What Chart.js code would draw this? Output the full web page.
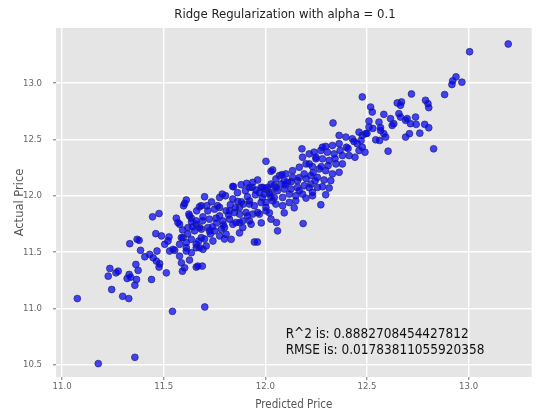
<!DOCTYPE html>
<html>
<head>
<meta charset="utf-8">
<script src="https://cdn.jsdelivr.net/npm/chart.js@4/dist/chart.umd.min.js"></script>
<style>
html,body{margin:0;padding:0;background:#fff;}
#wrap{width:536px;height:412px;position:relative;}
</style>
</head>
<body>
<div id="wrap"><canvas id="c"></canvas></div>
<script>
const chartTitle = 'Ridge Regularization with alpha = 0.1';
const xLabel = 'Predicted Price';
const yLabel = 'Actual Price';
const xTicks = [11.0, 11.5, 12.0, 12.5, 13.0];
const yTicks = [10.5, 11.0, 11.5, 12.0, 12.5, 13.0];
const annotationLines = ['R^2 is: 0.8882708454427812', 'RMSE is: 0.01783811055920358'];

const predicted = [
11.603,11.611,11.445,11.477,11.562,11.570,11.627,11.660,11.691,11.461,
11.489,11.521,11.505,11.529,11.554,11.578,11.595,11.611,11.636,11.660,
11.693,11.333,11.369,11.379,11.386,11.407,11.431,11.448,11.467,11.464,
11.480,11.477,11.513,11.578,11.587,11.603,11.592,11.627,11.660,11.690,
11.235,11.227,11.265,11.276,11.330,11.320,11.337,11.363,11.374,11.366,
11.358,11.440,11.244,11.298,11.328,11.075,11.178,11.358,11.543,11.702,
12.003,11.843,11.881,11.908,11.935,11.954,11.971,12.003,11.775,11.788,
11.840,11.864,11.892,11.922,11.946,11.979,12.003,11.598,11.676,11.712,
11.717,11.750,11.775,11.807,11.848,11.873,11.905,11.938,11.962,11.624,
11.636,11.660,11.693,11.725,11.758,11.791,11.824,11.856,11.889,11.578,
11.619,11.652,11.685,11.717,11.750,11.783,11.807,11.832,11.946,11.961,
11.526,11.546,11.587,11.611,11.636,11.660,11.685,11.709,11.742,11.775,11.676,11.611,11.668,
12.477,12.649,12.670,12.518,12.526,12.583,12.616,12.657,12.510,12.559,12.632,12.690,
12.333,12.510,12.567,12.592,12.543,12.690,12.461,12.477,12.363,12.396,12.428,12.452,
12.363,12.330,12.399,12.461,12.490,12.604,12.297,12.273,12.305,12.338,12.379,12.412,12.441,
12.180,12.216,12.249,12.281,12.314,12.347,12.379,12.036,12.069,12.101,12.134,12.167,
12.200,12.232,12.265,12.297,12.330,12.363,12.191,12.224,12.256,12.289,12.322,12.134,
12.158,12.109,12.077,12.044,12.011,11.979,11.995,12.028,12.060,12.093,12.126,12.158,
12.191,12.224,12.256,12.281,12.314,12.044,12.085,12.118,12.150,12.183,12.232,12.003,
12.036,12.085,12.150,12.200,12.273,12.186,12.055,12.028,12.060,
11.873,11.922,11.971,12.003,12.052,12.118,
11.685,11.775,11.824,11.873,11.922,12.028,
11.676,11.725,11.799,11.840,11.889,11.930,
12.028,12.082,11.840,11.922,11.938,11.962,11.987,12.028,12.052,12.093,
12.183,12.216,12.249,12.240,12.281,
13.195,13.005,12.938,12.922,12.918,12.967,12.882,12.719,12.665,12.788,12.800,12.804,
12.624,12.665,12.698,12.714,12.739,12.742,12.784,12.804,12.760,12.709,
12.828,12.494,12.567,12.583,12.562,12.477,12.232,12.297,
11.593,11.618,11.642,11.672,11.701,11.730,11.760,11.794,11.819,11.853,
11.882,11.912,11.951,11.985,12.020,12.054,12.098,12.127,12.167,12.201,
12.235,12.275,12.309,12.343,12.368,12.407,12.436,12.471,12.500,12.529,
11.701,11.735,11.765,11.804,11.863,11.902,11.828,11.740,11.662,11.637,
11.799,11.873,11.912,11.980,12.020,12.093,12.142,12.167,12.216,12.245
];

const actual = [
11.931,11.962,11.813,11.842,11.801,11.762,11.821,11.747,11.777,11.663,
11.643,11.598,11.569,11.509,11.515,11.569,11.628,11.538,11.494,11.538,
11.524,11.574,11.613,11.604,11.515,11.458,11.479,11.449,11.509,11.420,
11.396,11.366,11.315,11.464,11.404,11.360,11.330,11.429,11.366,11.375,
11.354,11.286,11.315,11.330,11.301,11.265,11.277,11.390,11.337,11.256,
11.205,11.256,11.167,11.107,11.087,11.087,10.509,10.565,10.973,11.012,
12.306,12.080,12.098,12.110,12.074,12.051,12.029,12.060,11.985,12.015,
11.971,11.949,11.926,11.955,11.911,11.940,11.896,11.911,11.902,11.911,
11.866,11.881,11.896,11.866,11.851,11.837,11.851,11.837,11.851,11.837,
11.801,11.777,11.813,11.792,11.801,11.777,11.792,11.762,11.777,11.747,
11.717,11.688,11.703,11.717,11.688,11.703,11.658,11.613,11.589,11.589,
11.634,11.524,11.628,11.583,11.613,11.569,11.628,11.554,11.598,11.643,11.538,11.509,11.375,
12.878,12.824,12.833,12.788,12.744,12.723,12.685,12.729,12.663,12.654,12.640,12.670,
12.646,12.610,12.580,12.521,12.497,12.521,12.565,12.536,12.536,12.521,12.506,12.462,
12.462,12.446,12.431,12.402,12.387,12.396,12.438,12.402,12.387,12.372,12.357,12.357,12.342,
12.417,12.372,12.342,12.328,12.313,12.283,12.283,12.229,12.179,12.194,12.223,12.253,
12.283,12.259,12.238,12.223,12.194,12.208,12.194,12.179,12.163,12.140,12.134,12.163,
12.134,12.119,12.104,12.089,12.074,12.074,12.015,12.029,12.045,12.060,12.060,12.074,
12.089,12.104,12.074,12.080,12.069,11.985,11.985,12.015,12.000,12.015,12.000,11.940,
11.955,11.911,11.955,11.979,11.920,11.753,11.762,11.792,11.688,
11.762,11.777,11.837,11.866,11.926,11.940,
11.911,11.821,11.866,11.896,11.926,11.985,
11.717,11.688,11.717,11.747,11.717,11.747,
12.217,12.188,12.083,12.074,12.119,12.140,12.074,12.104,12.149,12.134,
12.342,12.283,12.328,12.387,12.431,
13.348,13.279,13.056,13.021,12.988,13.009,12.899,12.904,12.804,12.848,12.819,12.783,
12.625,12.699,12.685,12.640,12.699,12.634,12.634,12.604,12.556,12.551,
12.417,12.551,12.604,12.551,12.491,12.431,12.029,12.009,
11.696,11.661,11.723,11.598,11.616,11.661,11.759,11.741,11.830,11.893,
11.946,11.991,12.009,11.982,12.018,12.071,12.098,12.125,12.161,12.152,
12.205,12.259,12.268,12.330,12.402,12.420,12.482,12.491,12.554,12.598,
11.991,11.946,11.911,12.000,12.027,12.045,11.920,11.723,11.866,11.768,
11.616,11.670,11.821,11.759,11.848,11.848,11.893,12.045,12.071,12.134
];

const FONT = "'DejaVu Sans Condensed', 'DejaVu Sans', sans-serif";
const points = predicted.map((x, i) => ({ x: x, y: actual[i] }));

const decor = {
  id: 'decor',
  beforeDraw(chart) {
    const { ctx, chartArea: a } = chart;
    ctx.save();
    ctx.fillStyle = '#e5e5e5';
    ctx.fillRect(a.left, a.top, a.right - a.left, a.bottom - a.top);
    ctx.restore();
  },
  afterDraw(chart) {
    const { ctx } = chart;
    const xs = chart.scales.x, ys = chart.scales.y;
    ctx.save();
    ctx.fillStyle = '#222';
    ctx.font = "13px " + FONT;
    ctx.textAlign = 'center';
    ctx.textBaseline = 'middle';
    ctx.fillText(chartTitle, 285, 15);
    ctx.font = "13.5px " + FONT;
    ctx.textAlign = 'left';
    ctx.fillStyle = '#111';
    const ax = xs.getPixelForValue(12.1);
    const ay = ys.getPixelForValue(10.77);
    annotationLines.forEach((t, i) => ctx.fillText(t, ax, ay + i * 16));
    ctx.restore();
  }
};

new Chart(document.getElementById('c'), {
  type: 'scatter',
  data: {
    datasets: [{
      data: points,
      pointRadius: 3.4,
      pointHoverRadius: 3.4,
      backgroundColor: 'rgba(0,0,250,0.72)',
      borderColor: 'rgba(35,35,120,0.7)',
      borderWidth: 1
    }]
  },
  options: {
    responsive: true,
    maintainAspectRatio: false,
    animation: false,
    events: [],
    layout: { padding: { left: 13, right: 3, top: 28, bottom: 0 } },
    plugins: { legend: { display: false }, tooltip: { enabled: false }, title: { display: false } },
    scales: {
      x: {
        type: 'linear',
        min: 10.97, max: 13.31,
        afterBuildTicks: s => { s.ticks = xTicks.map(v => ({ value: v })); },
        afterFit: s => { s.height = 35; },
        border: { display: false },
        grid: { color: '#ffffff', lineWidth: 1.4, tickLength: 3, tickColor: '#999' },
        ticks: { font: { size: 9.5, family: FONT }, color: '#666', padding: 1, maxRotation: 0,
                 callback: v => Number(v).toFixed(1) },
        title: { display: true, text: xLabel, font: { size: 11.5, family: FONT }, color: '#555',
                 padding: { top: 0, bottom: 0 } }
      },
      y: {
        type: 'linear',
        min: 10.39, max: 13.49,
        afterBuildTicks: s => { s.ticks = yTicks.map(v => ({ value: v })); },
        afterFit: s => { s.width = 43; },
        border: { display: false },
        grid: { color: '#ffffff', lineWidth: 1.4, tickLength: 3, tickColor: '#999' },
        ticks: { font: { size: 9.5, family: FONT }, color: '#666', padding: 11,
                 callback: v => Number(v).toFixed(1) },
        title: { display: true, text: yLabel, font: { size: 11.5, family: "'DejaVu Sans', sans-serif" }, color: '#555',
                 padding: { top: 0, bottom: 0 } }
      }
    }
  },
  plugins: [decor]
});
</script>
</body>
</html>
